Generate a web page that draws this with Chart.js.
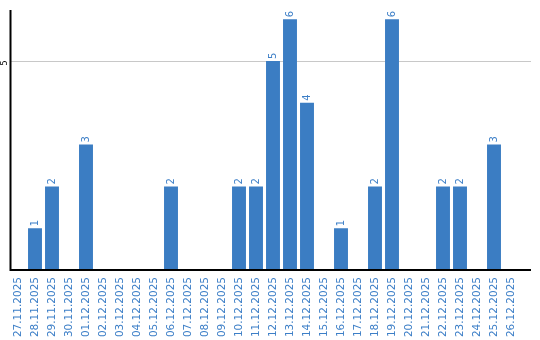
<!DOCTYPE html>
<html><head><meta charset="utf-8">
<script src="https://cdn.jsdelivr.net/npm/chart.js@4"></script>
<style>html,body{margin:0;padding:0;background:#fff}</style>
</head><body>
<canvas id="c" width="540" height="340"></canvas>
<script>
const categories = ["27.11.2025","28.11.2025","29.11.2025","30.11.2025","01.12.2025","02.12.2025","03.12.2025","04.12.2025","05.12.2025","06.12.2025","07.12.2025","08.12.2025","09.12.2025","10.12.2025","11.12.2025","12.12.2025","13.12.2025","14.12.2025","15.12.2025","16.12.2025","17.12.2025","18.12.2025","19.12.2025","20.12.2025","21.12.2025","22.12.2025","23.12.2025","24.12.2025","25.12.2025","26.12.2025"];
const values = [0,1,2,0,3,0,0,0,0,2,0,0,0,2,2,5,6,4,0,1,0,2,6,0,0,2,2,0,3,0];
const yTicks = [5];

const barColor = '#3b7dc3';
const textColor = '#3d7fc7';

const decor = {
  id: 'decor',
  afterDatasetsDraw(chart) {
    const ctx = chart.ctx, y = chart.scales.y, a = chart.chartArea;
    ctx.save();
    const meta = chart.getDatasetMeta(0);
    ctx.font = '10px "DejaVu Sans"';
    ctx.fillStyle = textColor;
    ctx.textAlign = 'left';
    ctx.textBaseline = 'middle';
    meta.data.forEach((bar, i) => {
      const v = values[i];
      if (!v) return;
      ctx.save();
      ctx.translate(bar.x, bar.y - 2);
      ctx.rotate(-Math.PI / 2);
      ctx.fillText(String(v), 0, 0);
      ctx.restore();
    });
    ctx.strokeStyle = '#000';
    ctx.lineWidth = 2;
    ctx.beginPath();
    ctx.moveTo(10.5, a.top);
    ctx.lineTo(10.5, a.bottom + 1);
    ctx.moveTo(10, a.bottom);
    ctx.lineTo(531, a.bottom);
    ctx.stroke();
    ctx.fillStyle = '#000';
    ctx.font = '8px "DejaVu Sans"';
    ctx.textAlign = 'center';
    ctx.textBaseline = 'middle';
    yTicks.forEach(t => {
      ctx.save();
      ctx.translate(4.5, y.getPixelForValue(t) + 2);
      ctx.rotate(-Math.PI / 2);
      ctx.fillText(String(t), 0, 0);
      ctx.restore();
    });
    ctx.restore();
  },
  beforeDatasetsDraw(chart) {
    const ctx = chart.ctx, y = chart.scales.y;
    ctx.save();
    ctx.strokeStyle = '#c8c8c8';
    ctx.lineWidth = 1;
    yTicks.forEach(t => {
      const py = Math.round(y.getPixelForValue(t)) + 0.5;
      ctx.beginPath();
      ctx.moveTo(11, py);
      ctx.lineTo(531, py);
      ctx.stroke();
    });
    ctx.restore();
  }
};

new Chart(document.getElementById('c'), {
  type: 'bar',
  data: { labels: categories, datasets: [{ data: values, backgroundColor: barColor, borderWidth: 0, categoryPercentage: 1, barPercentage: 0.82 }] },
  options: {
    responsive: false,
    animation: false,
    devicePixelRatio: 1,
    layout: { padding: { left: 9.5, right: 20.5, top: 10, bottom: 0 } },
    plugins: { legend: { display: false }, tooltip: { enabled: false } },
    scales: {
      y: { display: false, min: 0, max: 6.22 },
      x: {
        grid: { display: false, drawTicks: false },
        border: { display: false },
        ticks: { color: textColor, font: { family: 'DejaVu Sans', size: 10.5 }, minRotation: 90, maxRotation: 90, padding: 7, autoSkip: false },
        afterFit(s) { s.height = 70; }
      }
    }
  },
  plugins: [decor]
});
</script>
</body></html>
